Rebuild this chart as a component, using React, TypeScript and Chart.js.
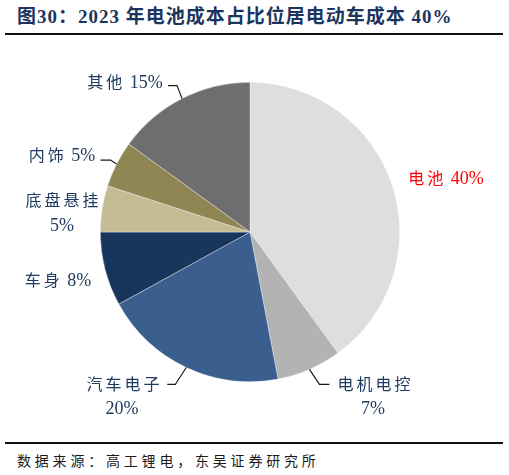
import { useEffect, useRef } from "react";
import { Chart, registerables } from "chart.js";

Chart.register(...registerables);

// slice data, clockwise from 12 o'clock
const categories = ["电池", "电机电控", "汽车电子", "车身", "底盘悬挂", "内饰", "其他"];
const shares = [40, 7, 20, 8, 5, 5, 15];
const sliceColors = ["#dedede", "#b3b3b3", "#3a5f8f", "#18365c", "#c4bc94", "#8f8653", "#6e6e6e"];

// label layout (canvas coords): text lines with centre x / y, optional leader elbow + end offsets from slice edge
const labelLayout = [
  { lines: [[446, 138]], color: "#ff0000", leader: null },
  { lines: [[374, 344], [373, 368]], color: "#1f3a60", leader: [[10, 15], [20, 15]] },
  { lines: [[123, 344], [122, 368]], color: "#1f3a60", leader: [[-11, 17], [-19, 17]] },
  { lines: [[58, 240]], color: "#1f3a60", leader: null },
  { lines: [[62, 160], [62, 185]], color: "#1f3a60", leader: null },
  { lines: [[62, 115]], color: "#1f3a60", leader: [[-6, -4], [-16, -4]] },
  { lines: [[125, 42]], color: "#1f3a60", leader: [[-5, -13], [-14, -13]] },
];

const cjkFont = '16px "Noto Sans CJK SC", serif';
const numFont = '18px "Liberation Serif", serif';

// each line is a list of [text, isCjk] pieces
function labelPieces(i: number): [string, boolean][][] {
  const name = categories[i];
  const pct = shares[i] + "%";
  return labelLayout[i].lines.length > 1
    ? [[[name, true]], [[pct, false]]]
    : [[[name, true], [" " + pct, false]]];
}

function setPiece(ctx: any, cjk: boolean) {
  ctx.font = cjk ? cjkFont : numFont;
  ctx.letterSpacing = cjk ? "3px" : "0px";
}

const outsideLabels = {
  id: "outsideLabels",
  afterDatasetsDraw(chart: Chart) {
    const ctx = chart.ctx as any;
    const meta = chart.getDatasetMeta(0);
    ctx.save();
    meta.data.forEach((el: any, i: number) => {
      const { x, y, startAngle, endAngle, outerRadius } = el.getProps(
        ["x", "y", "startAngle", "endAngle", "outerRadius"],
        true
      );
      const mid = (startAngle + endAngle) / 2;
      const ex = x + Math.cos(mid) * outerRadius;
      const ey = y + Math.sin(mid) * outerRadius;
      const layout = labelLayout[i];
      if (layout.leader) {
        ctx.strokeStyle = "#1a1a1a";
        ctx.lineWidth = 1.2;
        ctx.beginPath();
        ctx.moveTo(ex, ey);
        ctx.lineTo(ex + layout.leader[0][0], ey + layout.leader[0][1]);
        ctx.lineTo(ex + layout.leader[1][0], ey + layout.leader[1][1]);
        ctx.stroke();
      }
      ctx.fillStyle = layout.color;
      ctx.textAlign = "left";
      ctx.textBaseline = "middle";
      labelPieces(i).forEach((pieces, k) => {
        let total = 0;
        const widths = pieces.map(([t, cjk]) => {
          setPiece(ctx, cjk);
          const w = ctx.measureText(t).width;
          total += w;
          return w;
        });
        if (pieces[pieces.length - 1][1]) total -= 3;
        let px = layout.lines[k][0] - total / 2;
        pieces.forEach(([t, cjk], j) => {
          setPiece(ctx, cjk);
          ctx.fillText(t, px, layout.lines[k][1] + (cjk ? 0 : 1));
          px += widths[j];
        });
      });
    });
    ctx.restore();
  },
};

function CostPie() {
  const chartRef = useRef<HTMLCanvasElement | null>(null);
  const chartInstanceRef = useRef<Chart | null>(null);

  useEffect(() => {
    if (!chartRef.current) return;
    if (chartInstanceRef.current) chartInstanceRef.current.destroy();

    chartInstanceRef.current = new Chart(chartRef.current, {
      type: "pie",
      data: {
        labels: categories,
        datasets: [
          {
            data: shares,
            backgroundColor: sliceColors,
            borderColor: "rgba(255,255,255,0.6)",
            borderWidth: 0.6,
          },
        ],
      },
      options: {
        responsive: false,
        animation: false,
        layout: { padding: { left: 100, right: 109, top: 42, bottom: 53 } },
        plugins: {
          legend: { display: false },
          tooltip: { enabled: false },
        },
      },
      plugins: [outsideLabels],
    });

    return () => {
      if (chartInstanceRef.current) {
        chartInstanceRef.current.destroy();
        chartInstanceRef.current = null;
      }
    };
  }, []);

  return (
    <canvas
      ref={chartRef}
      width={509}
      height={395}
      style={{ position: "absolute", left: 0, top: 40, width: 509, height: 395 }}
    ></canvas>
  );
}

export default function App() {
  return (
    <div style={{ position: "absolute", left: 0, top: 0, width: 509, height: 475, background: "#fff" }}>
      <div
        style={{
          position: "absolute",
          left: 17,
          top: 5,
          fontFamily: '"Liberation Serif", "Noto Sans CJK SC", serif',
          fontWeight: "bold",
          fontSize: 19,
          letterSpacing: 1,
          color: "#1c355e",
          whiteSpace: "nowrap",
          lineHeight: "24px",
        }}
      >
        图30：2023 年电池成本占比位居电动车成本 40%
      </div>
      <div style={{ position: "absolute", left: 5, top: 33, width: 498, height: 2, background: "#111" }} />
      <CostPie />
      <div style={{ position: "absolute", left: 5, top: 442, width: 498, height: 2, background: "#111" }} />
      <div
        style={{
          position: "absolute",
          left: 17,
          top: 452,
          fontFamily: '"Liberation Serif", "Noto Sans CJK SC", serif',
          fontSize: 14,
          letterSpacing: 3.8,
          color: "#1a1a1a",
          whiteSpace: "nowrap",
          lineHeight: "20px",
        }}
      >
        数据来源：高工锂电，东吴证券研究所
      </div>
    </div>
  );
}
